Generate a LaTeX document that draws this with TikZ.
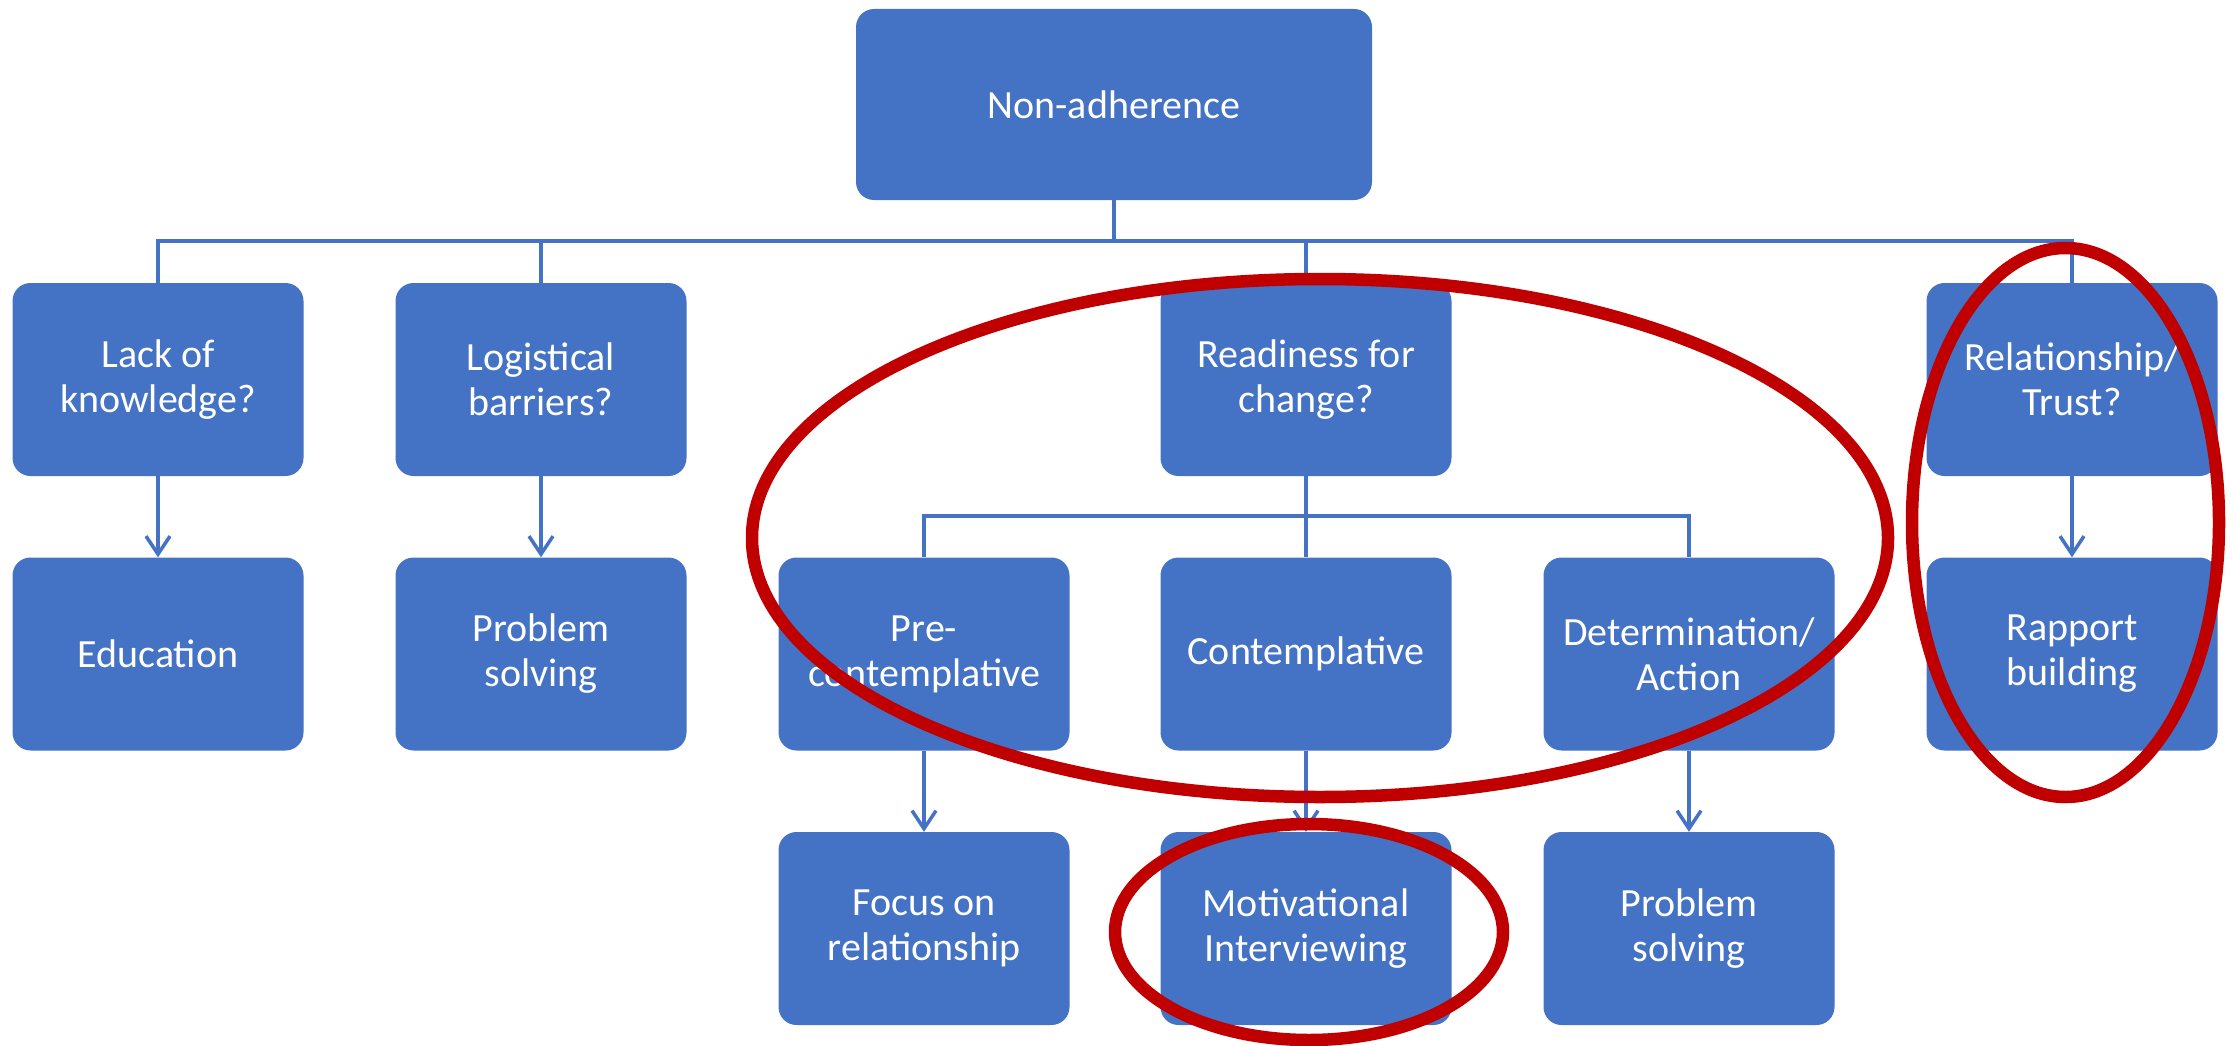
\documentclass[tikz,border=0pt]{standalone}
\usepackage{fontspec}
\setmainfont{Carlito}
\usetikzlibrary{arrows.meta}
\definecolor{boxblue}{HTML}{4472C4}
\definecolor{ringred}{HTML}{C00000}
\begin{document}
\begin{tikzpicture}[x=1pt,y=-1pt,
  box/.style={fill=boxblue, rounded corners=18pt, minimum width=291pt, minimum height=193pt,
    inner sep=0pt, text=white, align=center, font=\fontsize{40}{45}\selectfont},
  link/.style={draw=boxblue, line width=3.5pt},
  arr/.style={link, -{Straight Barb[length=18pt,width=24pt,line width=3.5pt]}},
  ring/.style={draw=ringred, line width=12.5pt}]
\useasboundingbox (0,0) rectangle (2234,1046);
% row 1
\node[box, minimum width=516pt, minimum height=191pt] (na) at (1114,104.5) {Non-adherence};
% row 2
\node[box] (lk) at (158,379.5) {Lack of\\knowledge?};
\node[box] (lb) at (541,379.5) {Logistical\\barriers?};
\node[box] (rd) at (1306,379.5) {Readiness for\\change?};
\node[box] (rt) at (2072,379.5) {Relationship/\\Trust?};
% row 3
\node[box] (ed) at (158,654) {Education};
\node[box] (ps1) at (541,654) {Problem\\solving};
\node[box] (pc) at (924,654) {Pre-\\contemplative};
\node[box] (ct) at (1306,654) {Contemplative};
\node[box] (da) at (1689,654) {Determination/\\Action};
\node[box] (rb) at (2072,654) {Rapport\\building};
% row 4
\node[box] (fr) at (924,928.5) {Focus on\\relationship};
\node[box] (mi) at (1306,928.5) {Motivational\\Interviewing};
\node[box] (ps2) at (1689,928.5) {Problem\\solving};
% connectors
\draw[link] (na.south) -- ++(0,41) -| (lk.north);
\draw[link] (na.south) -- ++(0,41) -| (lb.north);
\draw[link] (na.south) -- ++(0,41) -| (rd.north);
\draw[link] (na.south) -- ++(0,41) -| (rt.north);
\draw[link] (rd.south) -- ++(0,40) -| (pc.north);
\draw[link] (rd.south) -- ++(0,40) -| (ct.north);
\draw[link] (rd.south) -- ++(0,40) -| (da.north);
\draw[arr] (lk) -- (ed);
\draw[arr] (lb) -- (ps1);
\draw[arr] (rt) -- (rb);
\draw[arr] (pc) -- (fr);
\draw[arr] (ct) -- (mi);
\draw[arr] (da) -- (ps2);
% red rings
\draw[ring] (1320,538) ellipse [x radius=568pt, y radius=259pt];
\draw[ring] (1309,932) ellipse [x radius=194pt, y radius=108pt];
\draw[ring] (2065.5,522.5) ellipse [x radius=153.5pt, y radius=274.5pt];
\end{tikzpicture}
\end{document}
